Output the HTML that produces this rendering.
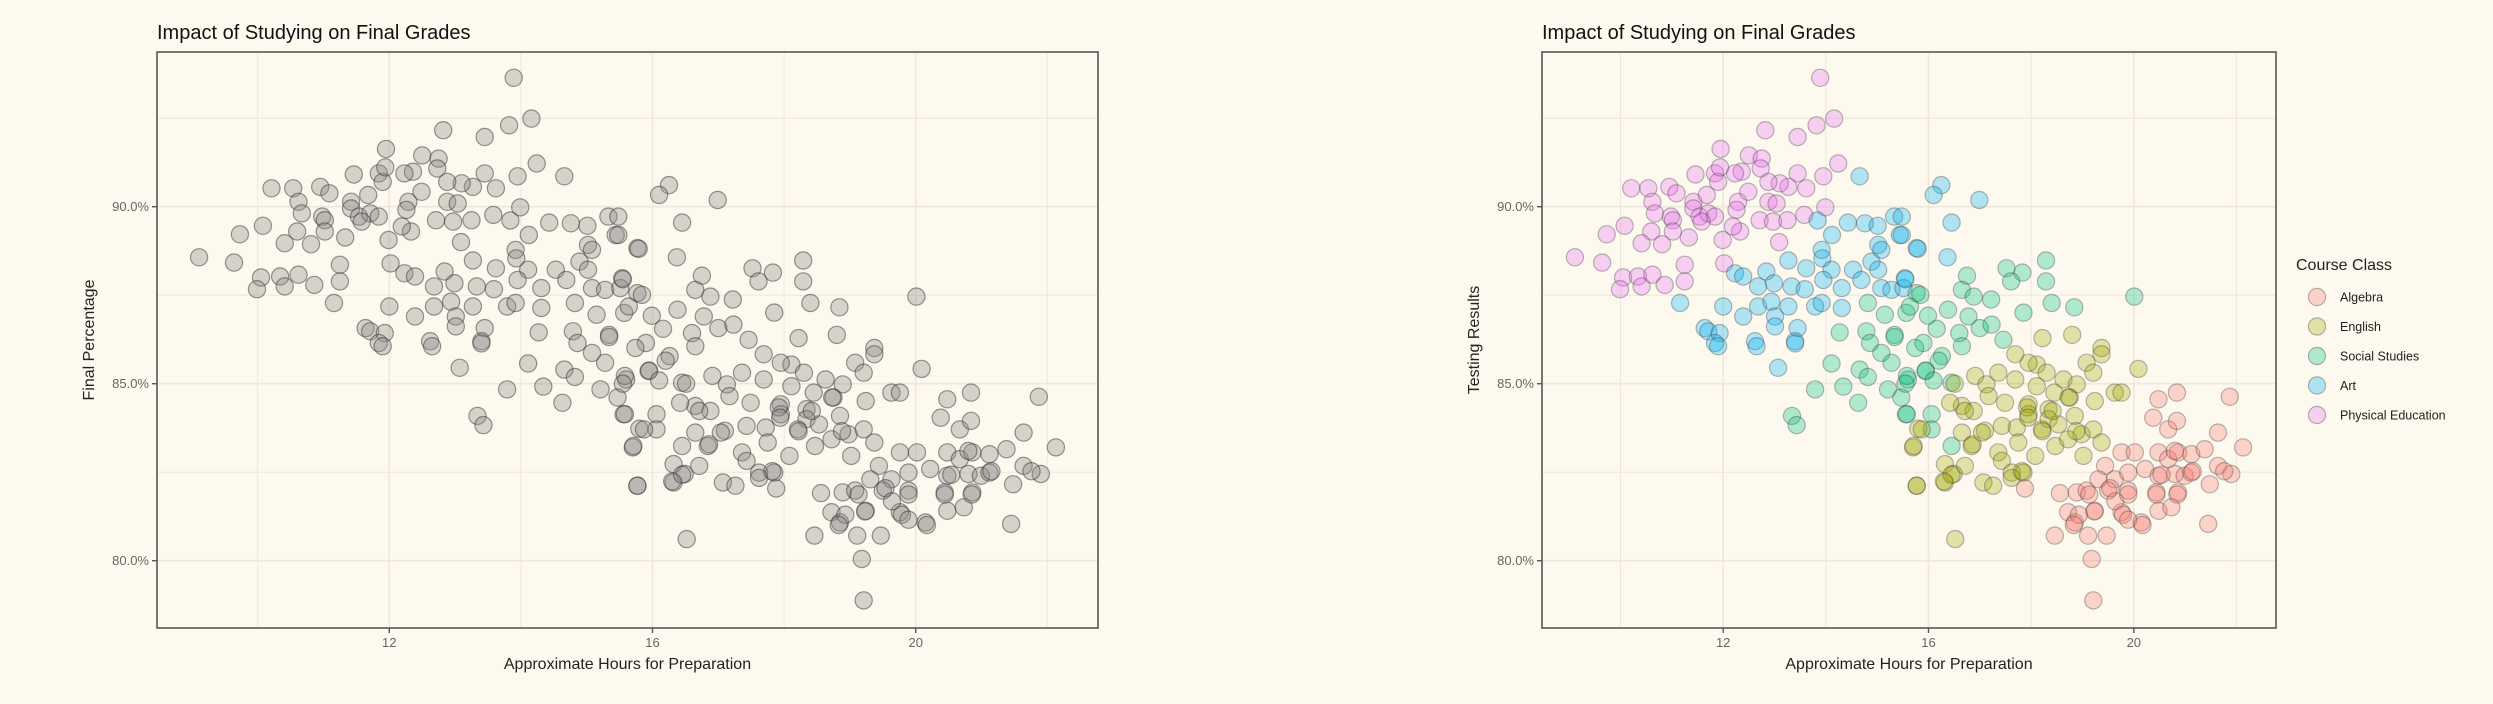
<!DOCTYPE html>
<html><head><meta charset="utf-8"><style>
html,body{margin:0;padding:0;background:#FDF9EF;}
svg{display:block;font-family:"Liberation Sans",sans-serif;}
</style></head><body>
<svg id="chart" width="2493" height="704" viewBox="0 0 2493 704" xmlns="http://www.w3.org/2000/svg">
<rect x="0" y="0" width="2493" height="704" fill="#FDF9EF"/>
<g id="left"></g>
<g id="right"></g>
</svg>
<script>
const classNames = ["Algebra","English","Social Studies","Art","Physical Education"];
const classColors = ["#F8766D","#A3A500","#00BF7D","#00B0F6","#E76BF3"];
const xTicks = [12,16,20];
const xTickLabels = ["12","16","20"];
const yTicks = [80,85,90];
const yTickLabels = ["80.0%","85.0%","90.0%"];
// class index: 0 Algebra,1 English,2 Social,3 Art,4 PE
const hours = [
13.89,14.16,13.82,13.45,12.82,14.24,13.95,11.95,12.50,12.75,12.73,13.45,13.62,13.27,13.10,12.88,12.36,12.23,11.84,11.90,11.46,11.94,10.21,10.54,10.95,11.09,11.42,11.68,11.42,10.62,10.67,10.98,11.02,11.54,11.71,11.84,11.58,12.29,12.26,12.49,12.88,13.04,12.71,12.97,13.25,13.58,13.99,10.08,9.73,10.60,10.41,10.81,11.02,11.33,11.99,12.33,12.19,13.09,9.11,9.64,10.05,9.99,10.34,10.41,10.62,10.86,11.25,11.25,12.02,
14.66,13.84,14.12,14.43,14.76,15.01,15.33,15.44,15.02,15.08,15.77,13.92,13.93,13.27,13.62,14.11,14.53,14.89,15.02,12.84,12.23,12.39,12.68,12.99,13.33,13.59,13.95,14.31,14.69,15.08,15.28,15.51,15.54,12.68,12.94,13.27,13.79,13.92,14.31,12.00,11.16,12.39,13.01,13.45,11.64,11.71,11.93,12.62,11.84,13.01,13.40,
16.25,16.10,16.99,16.45,15.48,15.48,15.79,16.37,15.55,13.07,12.65,13.40,11.90,
14.82,15.15,15.57,15.77,14.27,14.79,15.34,14.86,
16.75,17.52,17.83,17.61,18.29,18.29,18.40,18.84,20.01,17.85,16.65,16.88,17.22,15.84,15.64,15.99,16.38,16.78,17.00,17.23,16.60,16.16,17.46,15.90,
14.11,13.79,14.34,14.66,14.82,14.63,13.34,13.43,15.56,15.21,15.47,15.28,15.60,15.08,
15.94,16.45,16.26,15.58,15.58,16.06,16.06,16.45,15.74,16.65,
18.22,18.80,19.37,15.70,15.80,15.77,
17.69,18.11,18.30,17.95,19.08,19.37,20.09,18.63,18.89,19.21,19.63,19.76,16.91,17.13,17.36,17.69,18.11,18.45,18.75,19.24,16.65,16.88,17.17,17.49,17.95,18.34,18.85,18.34,17.95,16.42,15.87,16.65,17.10,17.43,17.72,18.21,18.53,18.98,19.21,15.71,16.84,17.04,17.36,17.75,18.08,18.47,18.72,19.02,19.37,16.32,16.71,17.43,17.62,17.85,16.49,16.32,17.07,17.26,15.77,16.52,
17.88,18.56,18.89,19.08,18.72,19.24,18.85,18.46,19.11,19.47,19.18,19.21,19.44,19.63,19.50,19.89,19.76,20.15,19.76,20.02,20.22,20.48,20.84,20.38,20.67,20.84,20.48,20.67,20.86,21.12,20.48,20.80,20.99,20.44,20.86,20.48,20.73,21.38,21.64,21.87,22.13,21.64,21.90,21.48,21.12,21.45,19.31,19.89,
19.54,19.64,19.89,19.79,19.89,20.17,20.44,20.54,20.80,20.85,21.15,21.76,19.23,18.93,18.83,19.13,
17.92,17.94,18.42,18.73,18.88,18.22,17.62,17.82,16.51,16.71,16.86,16.30,16.45,
15.34,15.95,15.55,16.20,16.10
];
const grades = [
93.64,92.49,92.30,91.97,92.16,91.22,90.86,91.63,91.45,91.36,91.08,90.94,90.52,90.56,90.66,90.70,90.99,90.94,90.94,90.70,90.91,91.11,90.52,90.52,90.56,90.38,90.14,90.33,89.95,90.14,89.81,89.72,89.62,89.72,89.81,89.72,89.58,90.14,89.91,90.42,90.14,90.09,89.62,89.58,89.62,89.77,89.98,89.46,89.22,89.30,88.97,88.94,89.30,89.13,89.06,89.30,89.44,89.00,88.57,88.42,88.00,87.67,88.03,87.75,88.08,87.79,88.36,87.89,88.40,
90.86,89.61,89.20,89.55,89.53,89.46,89.72,89.20,88.92,88.78,88.83,88.78,88.54,88.48,88.26,88.22,88.22,88.45,88.22,88.17,88.12,88.03,87.75,87.84,87.75,87.67,87.93,87.70,87.93,87.70,87.65,87.70,87.98,87.18,87.32,87.18,87.18,87.28,87.14,87.18,87.28,86.90,86.90,86.57,86.57,86.48,86.43,86.20,86.15,86.62,86.20,
90.61,90.33,90.19,89.55,89.72,89.20,88.81,88.57,87.95,85.45,86.06,86.14,86.06,
87.28,86.95,87.00,87.56,86.45,86.48,86.38,86.15,
88.05,88.26,88.14,87.89,88.48,87.89,87.28,87.16,87.46,87.01,87.65,87.46,87.38,87.51,87.18,86.92,87.09,86.90,86.57,86.67,86.43,86.55,86.24,86.15,
85.57,84.84,84.92,85.40,85.19,84.46,84.09,83.83,84.14,84.84,84.61,85.59,85.12,85.87,
85.36,85.03,85.78,85.22,84.14,84.14,83.71,83.24,86.01,86.06,
86.29,86.38,86.01,83.20,83.73,82.12,
85.83,85.54,85.31,85.59,85.59,85.83,85.42,85.12,84.98,85.31,84.75,84.75,85.22,84.98,85.31,85.12,84.93,84.75,84.61,84.51,84.37,84.23,84.65,84.46,84.42,84.28,84.09,84.00,84.14,84.46,83.71,83.62,83.67,83.81,83.76,83.71,83.85,83.57,83.71,83.24,83.24,83.62,83.06,83.34,82.96,83.24,83.43,82.96,83.34,82.73,82.68,82.82,82.49,82.49,82.45,82.21,82.21,82.12,82.12,80.61,
82.04,81.91,81.93,81.98,81.37,81.41,81.08,80.71,80.71,80.71,80.05,78.88,82.68,82.30,81.98,81.98,81.37,81.08,83.06,83.06,82.59,84.56,84.75,84.04,83.71,83.95,83.06,82.87,83.06,83.01,82.40,82.45,82.40,81.93,81.93,81.41,81.51,83.15,83.62,84.63,83.20,82.68,82.45,82.16,82.49,81.04,82.30,82.49,
82.05,81.68,81.87,81.30,81.16,81.01,81.87,82.43,83.10,81.87,82.53,82.53,81.39,81.30,81.01,81.87,
84.33,84.04,84.23,84.61,83.66,83.66,82.34,82.53,85.00,84.23,83.29,82.24,82.43,
86.32,85.37,85.00,85.65,85.09
];
const courseClass = [].concat(
 Array(69).fill(4), Array(51).fill(3), Array(13).fill(3), Array(8).fill(2), Array(24).fill(2),
 Array(14).fill(2), Array(10).fill(2), Array(6).fill(1), Array(60).fill(1), Array(48).fill(0),
 Array(16).fill(0), Array(13).fill(1), Array(5).fill(2)
);

const NS="http://www.w3.org/2000/svg";
const X_MIN=8.47, X_MAX=22.77, Y_MIN=78.1, Y_MAX=94.37;
function mk(tag,attrs,parent){const e=document.createElementNS(NS,tag);for(const k in attrs)e.setAttribute(k,attrs[k]);parent.appendChild(e);return e;}

function drawPanel(g, p, colored){
  const sx=v=>p.x0+(v-X_MIN)/(X_MAX-X_MIN)*(p.x1-p.x0);
  const sy=v=>p.y1-(v-Y_MIN)/(Y_MAX-Y_MIN)*(p.y1-p.y0);
  const bg=mk('rect',{x:p.x0,y:p.y0,width:p.x1-p.x0,height:p.y1-p.y0,fill:'#FDF9EF'},g);
  
  
  for(let v=10;v<=22;v+=2){
    const l=mk('line',{x1:sx(v),x2:sx(v),y1:p.y0,y2:p.y1,stroke:'#EEE8DC','stroke-width':v%4===0?1.6:1},g);
    
    
  }
  for(let v=80;v<=92.5;v+=2.5){
    const l=mk('line',{x1:p.x0,x2:p.x1,y1:sy(v),y2:sy(v),stroke:'#EEE8DC','stroke-width':v%5===0?1.6:1},g);
    
    
  }
  for(let i=0;i<hours.length;i++){
    const c=courseClass[i];
    const col=colored?classColors[c]:'#8a8a88';
    const pt=mk('circle',{cx:sx(hours[i]).toFixed(1),cy:sy(grades[i]).toFixed(1),r:8.6,fill:col,'fill-opacity':colored?0.3:0.35,stroke:colored?'#3a3a3a':'#333','stroke-opacity':colored?0.35:0.5,'stroke-width':1.2},g);
    
    
  }
  const fr=mk('rect',{x:p.x0,y:p.y0,width:p.x1-p.x0,height:p.y1-p.y0,fill:'none',stroke:'#555',"stroke-width":1.6},g);
  
  
  xTicks.forEach((v,i)=>{
    const t=mk('line',{x1:sx(v),x2:sx(v),y1:p.y1,y2:p.y1+5,stroke:'#555','stroke-width':1.4},g);
    
    
    const tx=mk('text',{x:sx(v),y:p.y1+19,'text-anchor':'middle','font-size':13,fill:'#666'},g);
    tx.textContent=xTickLabels[i];
    
    
  });
  yTicks.forEach((v,i)=>{
    const t=mk('line',{x1:p.x0-5,x2:p.x0,y1:sy(v),y2:sy(v),stroke:'#555','stroke-width':1.4},g);
    
    
    const tx=mk('text',{x:p.x0-8,y:sy(v)+4.5,'text-anchor':'end','font-size':13,fill:'#666'},g);
    tx.textContent=yTickLabels[i];
    
    
  });
  const xt=mk('text',{x:(p.x0+p.x1)/2,y:p.y1+41,'text-anchor':'middle','font-size':16,fill:'#222'},g);
  xt.textContent='Approximate Hours for Preparation';
  
  
  const cy=(p.y0+p.y1)/2;
  const yt=mk('text',{x:p.ytx,y:cy,'text-anchor':'middle','font-size':16,fill:'#222',transform:`rotate(-90 ${p.ytx} ${cy})`},g);
  yt.textContent=p.ytitle;
  
  
  const tt=mk('text',{x:p.x0,y:39,'font-size':20,fill:'#111'},g);
  tt.textContent='Impact of Studying on Final Grades';
  
  
}
drawPanel(document.getElementById('left'),{x0:157,x1:1098,y0:52,y1:628,ytx:94,ytitle:'Final Percentage'},false);
drawPanel(document.getElementById('right'),{x0:1542,x1:2276,y0:52,y1:628,ytx:1479,ytitle:'Testing Results'},true);

const lg=document.getElementById('right');
const lt=mk('text',{x:2296,y:270,'font-size':16,fill:'#222'},lg);
lt.textContent='Course Class';


classNames.forEach((n,i)=>{
  const y=297+i*29.5;
  const c=mk('circle',{cx:2317,cy:y,r:8.6,fill:classColors[i],'fill-opacity':0.3,stroke:'#3a3a3a','stroke-opacity':0.35,'stroke-width':1.2},lg);
  
  
  const t=mk('text',{x:2340,y:y+4.5,'font-size':12.5,fill:'#222'},lg);
  t.textContent=n;
  
  
});
</script>
</body></html>
